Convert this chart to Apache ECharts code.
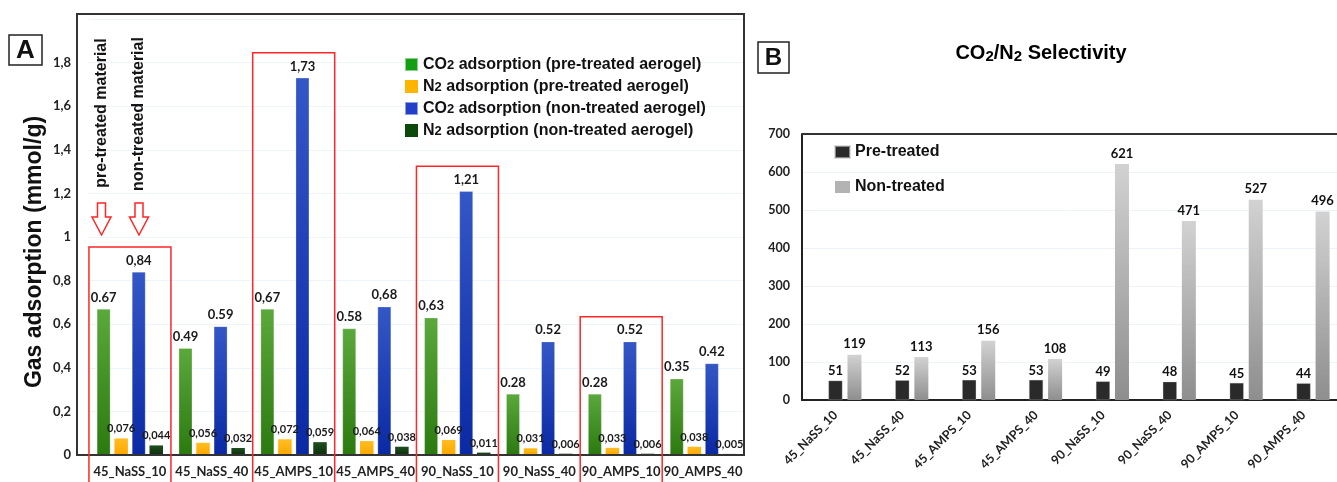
<!DOCTYPE html>
<html>
<head>
<meta charset="utf-8">
<script src="https://cdn.jsdelivr.net/npm/echarts@6/dist/echarts.min.js"></script>
<style>
  html, body { margin: 0; padding: 0; background: #ffffff; }
  #chart { width: 1337px; height: 482px; }
</style>
</head>
<body>
<div id="chart"></div>
<script>
// Aerogel samples
const categories = ['45_NaSS_10', '45_NaSS_40', '45_AMPS_10', '45_AMPS_40',
                    '90_NaSS_10', '90_NaSS_40', '90_AMPS_10', '90_AMPS_40'];

// Gas adsorption, mmol/g
const co2PreTreated = [0.67, 0.49, 0.67, 0.58, 0.63, 0.28, 0.28, 0.35];
const n2PreTreated  = [0.076, 0.056, 0.072, 0.064, 0.069, 0.031, 0.033, 0.038];
const co2NonTreated = [0.84, 0.59, 1.73, 0.68, 1.21, 0.52, 0.52, 0.42];
const n2NonTreated  = [0.044, 0.032, 0.059, 0.038, 0.011, 0.006, 0.006, 0.005];

// Decimal separator printed on each value label
const co2PreSep = ['.', '.', ',', '.', ',', '.', '.', '.'];
const co2NonSep = [',', '.', ',', ',', ',', '.', '.', '.'];
const n2Sep = ',';

// Adsorption axis tick labels (0 … 1.8, step 0.2)
const adsorptionTicks = ['0', '0,2', '0,4', '0,6', '0,8', '1', '1,2', '1,4', '1,6', '1,8'];

// CO2/N2 selectivity
const selectivityPre = [51, 52, 53, 53, 49, 48, 45, 44];
const selectivityNon = [119, 113, 156, 108, 621, 471, 527, 496];

// Sample groups framed in red
const framedGroups = [0, 2, 4, 6];

const LG = (top, bottom) => new echarts.graphic.LinearGradient(0, 0, 0, 1, [
  { offset: 0, color: top }, { offset: 1, color: bottom }
]);
const fmt = (v, sep) => String(v).replace('.', sep);
const labelFont = 'Lato, "Open Sans", sans-serif';
const arial = '"Liberation Sans", Arial, sans-serif';

const bigLabel = { show: true, position: 'top', distance: 5, fontSize: 13, fontWeight: 'bold', fontFamily: labelFont, color: '#1a1a1a' };
const smallLabel = { show: true, position: 'top', distance: 4, fontSize: 11, fontWeight: 'bold', fontFamily: labelFont, color: '#1a1a1a' };

const legendRich = {
  t: { fontSize: 16, fontWeight: 'bold', fontFamily: arial, color: '#111', lineHeight: 15 },
  s: { fontSize: 13, fontWeight: 'bold', fontFamily: arial, color: '#111', lineHeight: 15, verticalAlign: 'bottom' }
};

const chart = echarts.init(document.getElementById('chart'), null, { renderer: 'canvas' });

const option = {
  animation: false,
  backgroundColor: '#ffffff',
  grid: [
    { left: 89, width: 655, top: 19, bottom: 27 },
    { left: 802, width: 536, top: 134, bottom: 82 }
  ],
  legend: [
    {
      left: 404, top: 56.5, orient: 'vertical', padding: 0,
      itemWidth: 13, itemHeight: 13, itemGap: 6,
      icon: 'rect',
      data: [
        { name: 'CO2 adsorption (pre-treated aerogel)', itemStyle: { color: '#12a012' } },
        { name: 'N2 adsorption (pre-treated aerogel)', itemStyle: { color: '#ffb400' } },
        { name: 'CO2 adsorption (non-treated aerogel)', itemStyle: { color: '#213fc8' } },
        { name: 'N2 adsorption (non-treated aerogel)', itemStyle: { color: '#0b4a0b' } }
      ],
      formatter: name => name.replace(/^(CO|N)2(.*)$/, '{t|$1}{s|2}{t|$2}'),
      textStyle: { rich: legendRich },
      selectedMode: false
    },
    {
      left: 834, top: 144, orient: 'vertical', padding: 0,
      itemWidth: 15, itemHeight: 12, itemGap: 19,
      icon: 'rect',
      data: [
        { name: 'Pre-treated', itemStyle: { color: '#2a2a2a' } },
        { name: 'Non-treated', itemStyle: { color: '#b3b3b3' } }
      ],
      textStyle: { fontSize: 16, fontWeight: 'bold', fontFamily: arial, color: '#111', lineHeight: 16 },
      selectedMode: false
    }
  ],
  xAxis: [
    {
      type: 'category', gridIndex: 0, data: categories,
      axisLine: { show: false }, axisTick: { show: false },
      axisLabel: { interval: 0, margin: 10, fontSize: 13, fontWeight: 'bold', fontFamily: labelFont, color: '#222' }
    },
    {
      type: 'category', gridIndex: 1, data: categories,
      axisLine: { show: true, lineStyle: { color: '#222', width: 2 } }, axisTick: { show: false },
      axisLabel: { interval: 0, rotate: 45, margin: 13, fontSize: 12.5, fontWeight: 'bold', fontFamily: labelFont, color: '#222' }
    }
  ],
  yAxis: [
    {
      type: 'value', gridIndex: 0, min: 0, max: 2, interval: 0.2,
      axisLine: { show: false }, axisTick: { show: false },
      splitLine: { show: true, lineStyle: { color: '#eef4fb', width: 1 } },
      axisLabel: {
        margin: 18, fontSize: 13, fontWeight: 'bold', fontFamily: labelFont, color: '#222',
        formatter: v => adsorptionTicks[Math.round(v / 0.2)] || ''
      }
    },
    {
      type: 'value', gridIndex: 1, min: 0, max: 700, interval: 100,
      axisLine: { show: true, lineStyle: { color: '#222', width: 2 } }, axisTick: { show: false },
      splitLine: { show: true, lineStyle: { color: '#eef3fa', width: 1 } },
      axisLabel: { margin: 12, fontSize: 12.5, fontWeight: 'bold', fontFamily: labelFont, color: '#222' }
    }
  ],
  series: [
    {
      name: 'CO2 adsorption (pre-treated aerogel)', type: 'bar', xAxisIndex: 0, yAxisIndex: 0,
      data: co2PreTreated, barWidth: 13.5, barGap: '30%',
      itemStyle: { color: LG('#5ba83c', '#2b7a10'), borderColor: 'rgba(255,255,255,0.5)', borderWidth: 0.5 },
      label: Object.assign({}, bigLabel, { formatter: p => fmt(p.value, co2PreSep[p.dataIndex]) })
    },
    {
      name: 'N2 adsorption (pre-treated aerogel)', type: 'bar', xAxisIndex: 0, yAxisIndex: 0,
      data: n2PreTreated, barWidth: 13.5, barGap: '30%',
      itemStyle: { color: LG('#ffbd22', '#ffa800') },
      label: Object.assign({}, smallLabel, { formatter: p => fmt(p.value, n2Sep) })
    },
    {
      name: 'CO2 adsorption (non-treated aerogel)', type: 'bar', xAxisIndex: 0, yAxisIndex: 0,
      data: co2NonTreated, barWidth: 13.5, barGap: '30%',
      itemStyle: { color: LG('#3457c6', '#0a29a4'), borderColor: 'rgba(255,255,255,0.5)', borderWidth: 0.5 },
      label: Object.assign({}, bigLabel, { formatter: p => fmt(p.value, co2NonSep[p.dataIndex]) })
    },
    {
      name: 'N2 adsorption (non-treated aerogel)', type: 'bar', xAxisIndex: 0, yAxisIndex: 0,
      data: n2NonTreated, barWidth: 13.5, barGap: '30%',
      itemStyle: { color: LG('#1f4f1f', '#0c2f0c') },
      label: Object.assign({}, smallLabel, { formatter: p => fmt(p.value, n2Sep) })
    },
    {
      // empty leading slot: keeps the pair to the right of each tick
      type: 'bar', xAxisIndex: 1, yAxisIndex: 1, silent: true,
      data: categories.map(() => null), barWidth: 14, barGap: '36%'
    },
    {
      name: 'Pre-treated', type: 'bar', xAxisIndex: 1, yAxisIndex: 1,
      data: selectivityPre, barWidth: 14, barGap: '36%',
      itemStyle: { color: '#2a2a2a', borderColor: 'rgba(200,200,200,0.6)', borderWidth: 0.5 },
      label: { show: true, position: 'top', distance: 3, fontSize: 13, fontWeight: 'bold', fontFamily: labelFont, color: '#111' }
    },
    {
      name: 'Non-treated', type: 'bar', xAxisIndex: 1, yAxisIndex: 1,
      data: selectivityNon, barWidth: 14, barGap: '36%',
      itemStyle: { color: LG('#d2d2d2', '#8e8e8e') },
      label: { show: true, position: 'top', distance: 4, fontSize: 13, fontWeight: 'bold', fontFamily: labelFont, color: '#111' }
    }
  ]
};

chart.setOption(option);

// Annotations: frames, panel letters, titles, arrows
const red = '#ff2626';
const downArrow = cx => ({
  type: 'polygon', silent: true, z: 20,
  shape: { points: [[cx - 4, 203], [cx + 4, 203], [cx + 4, 217], [cx + 9.5, 217], [cx, 235], [cx - 9.5, 217], [cx - 4, 217]] },
  style: { fill: '#ffffff', stroke: red, lineWidth: 1.5 }
});
const vText = (x, y, text) => ({
  type: 'text', x: x, y: y, rotation: Math.PI / 2, silent: true, z: 20,
  style: { text: text, font: 'bold 16px "Liberation Sans", Arial, sans-serif', fill: '#161616', align: 'center', verticalAlign: 'middle', textAlign: 'center', textVerticalAlign: 'middle' }
});
const letterBox = (x, y, w, h, letter, size) => ([
  { type: 'rect', silent: true, z: 20, shape: { x: x, y: y, width: w, height: h }, style: { fill: '#fff', stroke: '#222', lineWidth: 1.5 } },
  { type: 'text', silent: true, z: 21, x: x + w / 2, y: y + h / 2 + 1,
    style: { text: letter, font: 'bold ' + size + 'px "Liberation Sans", Arial, sans-serif', fill: '#111', align: 'center', verticalAlign: 'middle', textAlign: 'center', textVerticalAlign: 'middle' } }
]);

const graphics = [
  // frame of panel A
  { type: 'rect', silent: true, z: 5, shape: { x: 77, y: 14, width: 667, height: 441 }, style: { fill: 'none', stroke: '#333', lineWidth: 2 } },
  // top edge of panel B
  { type: 'line', silent: true, z: 5, shape: { x1: 802, y1: 134, x2: 1337, y2: 134 }, style: { stroke: '#333', lineWidth: 2 } },
  // axis title of panel A
  { type: 'text', x: 35, y: 252, rotation: Math.PI / 2, silent: true, z: 20,
    style: { text: 'Gas adsorption (mmol/g)', font: 'bold 23px "Liberation Sans", Arial, sans-serif', fill: '#111', align: 'center', verticalAlign: 'middle', textAlign: 'center', textVerticalAlign: 'middle' } },
  // title of panel B
  { type: 'text', x: 1041, y: 53, silent: true, z: 20,
    style: {
      text: '{t|CO}{s|2}{t|/N}{s|2}{t| Selectivity}', align: 'center', verticalAlign: 'middle', textAlign: 'center', textVerticalAlign: 'middle',
      rich: {
        t: { fontSize: 20, fontWeight: 'bold', fontFamily: arial, color: '#111', lineHeight: 22 },
        s: { fontSize: 15, fontWeight: 'bold', fontFamily: arial, color: '#111', lineHeight: 22, verticalAlign: 'bottom' }
      }
    } },
  vText(102, 113, 'pre-treated material'),
  vText(138.5, 114, 'non-treated material'),
  downArrow(101.5),
  downArrow(139)
].concat(letterBox(9, 35, 33, 30, 'A', 26), letterBox(758, 42, 31, 31, 'B', 24));

framedGroups.forEach(g => {
  const cx = chart.convertToPixel({ xAxisIndex: 0 }, categories[g]);
  const peak = Math.max(co2PreTreated[g], n2PreTreated[g], co2NonTreated[g], n2NonTreated[g]);
  const top = chart.convertToPixel({ yAxisIndex: 0 }, peak) - 25;
  graphics.push({
    type: 'rect', silent: true, z: 30,
    shape: { x: cx - 41, y: top, width: 82, height: 490 - top },
    style: { fill: 'none', stroke: red, lineWidth: 1.5 }
  });
});

chart.setOption({ graphic: graphics });
</script>
</body>
</html>
